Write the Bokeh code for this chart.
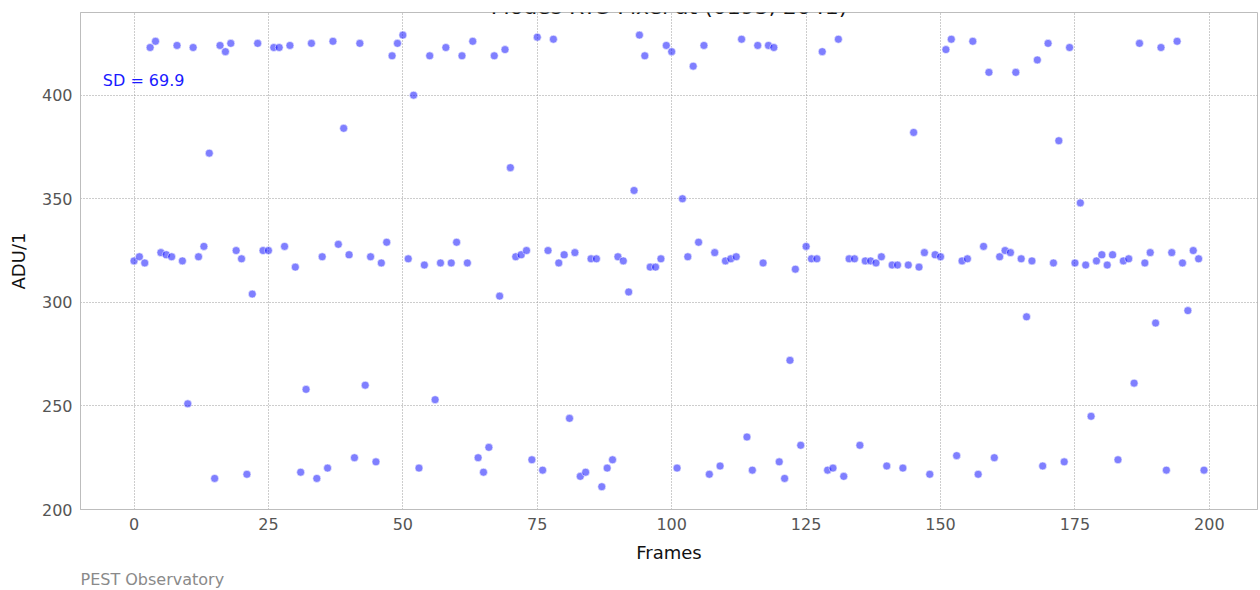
from bokeh.plotting import figure
from bokeh.models import Label, Title, Range1d, FixedTicker
from bokeh.embed import file_html
from bokeh.resources import INLINE

# Readout of one pixel over 200 frames (ADU)
frames = list(range(200))
adu = [
    320, 322, 319, 423, 426, 324, 323, 322, 424, 320,
    251, 423, 322, 327, 372, 215, 424, 421, 425, 325,
    321, 217, 304, 425, 325, 325, 423, 423, 327, 424,
    317, 218, 258, 425, 215, 322, 220, 426, 328, 384,
    323, 225, 425, 260, 322, 223, 319, 329, 419, 425,
    429, 321, 400, 220, 318, 419, 253, 319, 423, 319,
    329, 419, 319, 426, 225, 218, 230, 419, 303, 422,
    365, 322, 323, 325, 224, 428, 219, 325, 427, 319,
    323, 244, 324, 216, 218, 321, 321, 211, 220, 224,
    322, 320, 305, 354, 429, 419, 317, 317, 321, 424,
    421, 220, 350, 322, 414, 329, 424, 217, 324, 221,
    320, 321, 322, 427, 235, 219, 424, 319, 424, 423,
    223, 215, 272, 316, 231, 327, 321, 321, 421, 219,
    220, 427, 216, 321, 321, 231, 320, 320, 319, 322,
    221, 318, 318, 220, 318, 382, 317, 324, 217, 323,
    322, 422, 427, 226, 320, 321, 426, 217, 327, 411,
    225, 322, 325, 324, 411, 321, 293, 320, 417, 221,
    425, 319, 378, 223, 423, 319, 348, 318, 245, 320,
    323, 318, 323, 224, 320, 321, 261, 425, 319, 324,
    290, 423, 219, 324, 426, 319, 296, 325, 321, 219,
]

x_ticks = [0, 25, 50, 75, 100, 125, 150, 175, 200]
y_ticks = [200, 250, 300, 350, 400]

title_text = "Modes RTS Pixel at (0193, 2041)"
sd_text = "SD = 69.9"
credit_text = "PEST Observatory"

FONT = "DejaVu Sans"

p = figure(
    width=1260, height=590,
    output_backend="svg", toolbar_location=None,
    x_range=Range1d(-9.95, 208.95), y_range=Range1d(200, 439.9),
    min_border_left=80, min_border_right=3, min_border_top=12, min_border_bottom=10,
)
p.background_fill_color = "white"
p.border_fill_color = "white"
p.outline_line_color = "#bdbdbd"
p.outline_line_width = 1

# axes
for ax, ticks in ((p.xaxis, x_ticks), (p.yaxis, y_ticks)):
    ax.ticker = FixedTicker(ticks=ticks)
    ax.axis_line_color = "#bdbdbd"
    ax.major_tick_in = 0
    ax.major_tick_out = 0
    ax.minor_tick_line_color = None
    ax.major_label_text_font = FONT
    ax.major_label_text_font_size = "16px"
    ax.major_label_text_color = "#555555"
    ax.axis_label_text_font = FONT
    ax.axis_label_text_font_size = "18px"
    ax.axis_label_text_font_style = "normal"
    ax.axis_label_text_color = "#111111"

p.xaxis.axis_label = "Frames"
p.yaxis.axis_label = "ADU/1"
p.xaxis.major_label_standoff = 8
p.yaxis.major_label_standoff = 8
p.xaxis.axis_label_standoff = 9
p.yaxis.axis_label_standoff = 10

# dotted grid
for g in (p.xgrid, p.ygrid):
    g.grid_line_color = "#9a9a9a"
    g.grid_line_dash = "1 2"
    g.grid_line_width = 1
p.xgrid.ticker = FixedTicker(ticks=x_ticks)
p.ygrid.ticker = FixedTicker(ticks=y_ticks)

p.scatter(frames, adu, size=8, marker="circle",
          fill_color="#0000ff", fill_alpha=0.5,
          line_color="white", line_alpha=0.7, line_width=0.8)

p.add_layout(Label(x=-5.8, y=407, text=sd_text,
                   text_font=FONT, text_font_size="16px",
                   text_color="#1a1aff", text_baseline="middle"))

# title sits at the very top edge of the canvas
p.add_layout(Label(x=99.5, y=442.8, text=title_text,
                   text_font=FONT, text_font_size="22px",
                   text_color="#111111", text_align="center",
                   text_baseline="alphabetic"))

credit = Title(text=credit_text, align="left", text_font=FONT,
               text_font_size="16px", text_font_style="normal",
               text_color="#8a8a8a", standoff=4)
p.add_layout(credit, "below")

open("out.html", "w").write(file_html(p, INLINE))
